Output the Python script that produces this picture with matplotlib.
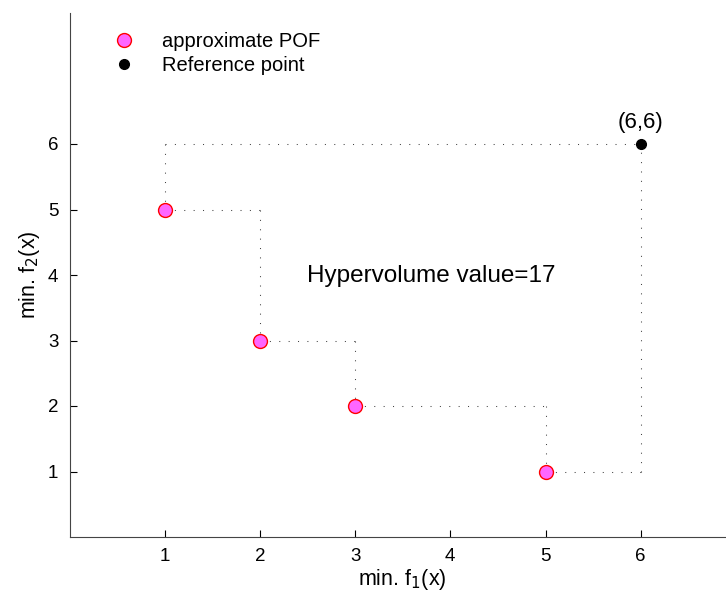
import matplotlib.pyplot as plt
import numpy as np

plt.rcParams['font.family'] = ['Liberation Sans', 'DejaVu Sans']

# approximate Pareto front and reference point
pof_x = [1, 2, 3, 5]
pof_y = [5, 3, 2, 1]
ref_x, ref_y = 6, 6
hv_label = "Hypervolume value=17"

fig = plt.figure(figsize=(7.26, 5.95), dpi=100)
ax = fig.add_axes([69.5/726, 58/595, 666.4/726, 524/595])

dot = dict(color='#444444', lw=0.75, dashes=(1, 8))

# dotted boundary of dominated region
ax.plot([pof_x[0], ref_x], [ref_y, ref_y], **dot)
ax.plot([pof_x[0], pof_x[0]], [ref_y, pof_y[0]], **dot)
for i in range(len(pof_x) - 1):
    ax.plot([pof_x[i], pof_x[i+1]], [pof_y[i], pof_y[i]], **dot)
    ax.plot([pof_x[i+1], pof_x[i+1]], [pof_y[i], pof_y[i+1]], **dot)
ax.plot([pof_x[-1], ref_x], [pof_y[-1], pof_y[-1]], **dot)
ax.plot([ref_x, ref_x], [pof_y[-1], ref_y], **dot)

ax.plot(pof_x, pof_y, 'o', ms=10, mfc='#ff66ff', mec='#ff0000', mew=1, label='approximate POF')
ax.plot([ref_x], [ref_y], 'o', ms=7, color='k', label='Reference point')

ax.text(ref_x, ref_y + 0.17, "(%d,%d)" % (ref_x, ref_y), ha='center', va='bottom', fontsize=16)
ax.text(2.49, 3.98, hv_label, ha='left', va='center', fontsize=17.5)

ax.set_xlim(0, 7)
ax.set_ylim(0, 8)
ax.set_xticks([1, 2, 3, 4, 5, 6])
ax.set_yticks([1, 2, 3, 4, 5, 6])
ax.tick_params(direction='in', length=5, labelsize=13.5, pad=8)
ax.spines['top'].set_visible(False)
ax.spines['right'].set_visible(False)
for s in ['left', 'bottom']:
    ax.spines[s].set_color('#444444')
ax.set_xlabel("min. f$_1$(x)", fontsize=15.5, labelpad=1)
ax.set_ylabel("min. f$_2$(x)", fontsize=15.5, labelpad=4)

ax.legend(loc='upper left', bbox_to_anchor=(104/726, 1 - 32/595), bbox_transform=fig.transFigure,
          frameon=False, fontsize=14.5, borderpad=0, borderaxespad=0,
          handlelength=2, handletextpad=0.9, labelspacing=0.25, numpoints=1)

fig.savefig('out.png', dpi=100)
